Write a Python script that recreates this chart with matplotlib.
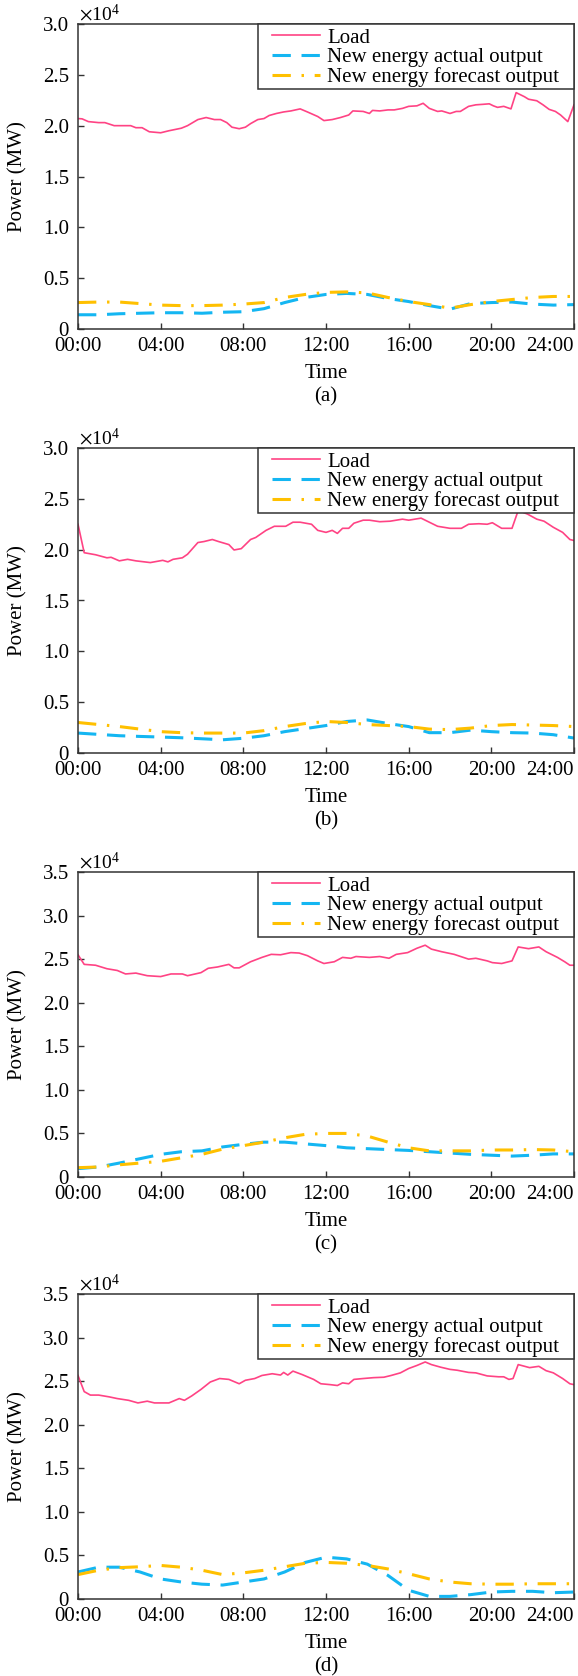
import matplotlib
matplotlib.use("Agg")
import matplotlib.pyplot as plt
from matplotlib.ticker import FuncFormatter, MultipleLocator
from matplotlib.patches import Rectangle

plt.rcParams['font.family'] = ['Liberation Serif', 'DejaVu Serif']
plt.rcParams['mathtext.fontset'] = 'stix'

# ---------------- data (MW) ----------------
panel_tags = ['(a)', '(b)', '(c)', '(d)']
series_names = ['Load', 'New energy actual output', 'New energy forecast output']
xtick_hours = [0, 4, 8, 12, 16, 20, 24]
xtick_labels = ['00:00', '04:00', '08:00', '12:00', '16:00', '20:00', '24:00']
ymax_list = [30000, 30000, 35000, 35000]

hours_hourly = list(range(25))

# panel (a)
load_t_a = [0.0, 0.2, 0.5, 1.0, 1.3, 1.75, 2.3, 2.55, 2.8, 3.1, 3.45, 4.0, 4.4, 5.0, 5.3, 5.8, 6.2, 6.6,
            6.9, 7.2, 7.45, 7.8, 8.1, 8.35, 8.7, 9.0, 9.25, 9.6, 9.95, 10.3, 10.75, 11.1, 11.6, 11.9,
            12.3, 12.7, 13.1, 13.3, 13.8, 14.1, 14.25, 14.6, 15.0, 15.3, 15.7, 16.0, 16.4, 16.7, 17.0,
            17.4, 17.6, 18.0, 18.3, 18.5, 18.9, 19.25, 19.6, 19.9, 20.1, 20.3, 20.6, 20.95, 21.2, 21.6,
            21.8, 22.2, 22.5, 22.8, 23.1, 23.35, 23.7, 24.0]
load_a = [20700, 20670, 20400, 20300, 20300, 20000, 20000, 20000, 19800, 19800, 19400, 19300, 19500,
          19750, 20000, 20600, 20800, 20600, 20600, 20300, 19850, 19700, 19850, 20200, 20600, 20700,
          21000, 21200, 21350, 21450, 21650, 21350, 20900, 20500, 20600, 20800, 21050, 21450, 21400,
          21200, 21500, 21450, 21550, 21550, 21700, 21900, 21950, 22200, 21700, 21400, 21450, 21200,
          21400, 21400, 21900, 22050, 22100, 22150, 21950, 21800, 21900, 21650, 23250, 22850, 22600,
          22450, 22050, 21600, 21400, 21050, 20400, 22050]
actual_a = [1400, 1400, 1500, 1550, 1600, 1600, 1550, 1650, 1700, 2000, 2600, 3100, 3400, 3500, 3400,
            3000, 2700, 2300, 1950, 2500, 2600, 2650, 2450, 2350, 2400]
forecast_a = [2600, 2650, 2650, 2500, 2350, 2300, 2300, 2350, 2450, 2600, 3100, 3400, 3600, 3650, 3550,
              3100, 2700, 2400, 2050, 2400, 2700, 2900, 3100, 3200, 3200]

# panel (b)
load_t_b = [0.0, 0.3, 0.85, 1.4, 1.6, 2.0, 2.4, 2.8, 3.5, 4.1, 4.35, 4.6, 5.05, 5.3, 5.8, 6.1, 6.5, 6.8,
            7.3, 7.55, 7.9, 8.35, 8.6, 9.1, 9.5, 10.05, 10.4, 10.75, 11.3, 11.6, 12.0, 12.3, 12.55, 12.8,
            13.1, 13.35, 13.8, 14.1, 14.6, 15.1, 15.7, 16.0, 16.6, 16.9, 17.4, 18.0, 18.55, 18.9, 19.4,
            19.8, 20.05, 20.5, 21.0, 21.3, 21.75, 22.2, 22.55, 23.0, 23.45, 23.8, 24.0]
load_b = [22500, 19700, 19500, 19200, 19250, 18900, 19050, 18900, 18730, 18950, 18800, 19050, 19200,
          19550, 20700, 20800, 21000, 20800, 20500, 19970, 20100, 21000, 21200, 21900, 22300, 22300,
          22700, 22700, 22500, 21900, 21700, 21900, 21600, 22100, 22100, 22600, 22900, 22900, 22750,
          22800, 23000, 22900, 23100, 22800, 22300, 22100, 22100, 22500, 22550, 22500, 22650, 22100,
          22100, 23850, 23500, 23000, 22800, 22200, 21700, 21000, 20900]
actual_b = [1960, 1830, 1700, 1630, 1570, 1500, 1400, 1300, 1450, 1700, 2100, 2400, 2700, 3100, 3250,
            2900, 2600, 2000, 2000, 2250, 2100, 2000, 1960, 1800, 1470]
forecast_b = [3000, 2800, 2600, 2350, 2100, 2000, 1960, 1960, 1960, 2200, 2600, 2900, 3100, 3000, 2800,
              2700, 2600, 2350, 2300, 2450, 2700, 2800, 2750, 2700, 2600]

# panel (c)
load_t_c = [0.0, 0.3, 0.85, 1.4, 1.9, 2.3, 2.8, 3.35, 4.0, 4.5, 5.05, 5.3, 5.95, 6.3, 6.75, 7.3, 7.55,
            7.8, 8.35, 8.9, 9.35, 9.8, 10.3, 10.7, 11.1, 11.6, 11.9, 12.4, 12.8, 13.2, 13.45, 14.1, 14.6,
            15.05, 15.4, 15.95, 16.4, 16.8, 17.1, 17.6, 18.2, 18.9, 19.25, 19.8, 20.05, 20.5, 21.0, 21.3,
            21.8, 22.3, 22.65, 23.2, 23.55, 23.8, 24.0]
load_c = [25500, 24400, 24300, 23900, 23700, 23300, 23400, 23100, 23000, 23300, 23300, 23100, 23450,
          23950, 24100, 24400, 24000, 24000, 24700, 25200, 25550, 25500, 25750, 25700, 25400, 24800,
          24500, 24700, 25200, 25100, 25300, 25200, 25300, 25100, 25550, 25750, 26250, 26600, 26150,
          25850, 25550, 25000, 25100, 24800, 24600, 24500, 24800, 26400, 26200, 26400, 25850, 25200,
          24700, 24300, 24300]
actual_c = [960, 1150, 1600, 2100, 2600, 2900, 3000, 3450, 3750, 4000, 4000, 3800, 3600, 3350, 3250,
            3150, 3050, 2900, 2750, 2600, 2500, 2400, 2500, 2650, 2650]
forecast_c = [1070, 1150, 1400, 1600, 1800, 2200, 2600, 3200, 3600, 4000, 4500, 4900, 5000, 5000, 4700,
              4000, 3350, 3000, 3000, 3000, 3100, 3100, 3150, 3100, 2900]

# panel (d)
load_t_d = [0.0, 0.3, 0.6, 1.0, 1.5, 1.9, 2.45, 2.9, 3.35, 3.7, 4.4, 4.9, 5.15, 5.5, 5.95, 6.4, 6.85,
            7.3, 7.8, 8.1, 8.55, 8.9, 9.4, 9.8, 9.95, 10.15, 10.4, 10.85, 11.4, 11.75, 12.2, 12.55, 12.8,
            13.1, 13.35, 13.8, 14.3, 14.8, 15.15, 15.6, 16.0, 16.4, 16.8, 17.1, 17.55, 18.0, 18.35, 18.9,
            19.25, 19.8, 20.35, 20.6, 20.85, 21.05, 21.3, 21.85, 22.3, 22.65, 23.0, 23.45, 23.8, 24.0]
load_d = [25650, 23800, 23400, 23400, 23200, 23000, 22800, 22500, 22700, 22500, 22500, 23000, 22800,
          23300, 24050, 24900, 25300, 25200, 24700, 25100, 25300, 25650, 25850, 25700, 26000, 25700,
          26150, 25750, 25200, 24700, 24600, 24500, 24800, 24700, 25200, 25300, 25400, 25450, 25650,
          25950, 26450, 26800, 27200, 26900, 26600, 26350, 26250, 26000, 25950, 25600, 25500, 25500,
          25200, 25300, 26900, 26550, 26700, 26200, 25950, 25300, 24700, 24600]
actual_d = [3100, 3650, 3650, 3100, 2300, 1950, 1700, 1600, 1950, 2300, 3100, 4200, 4800, 4600, 4000,
            2700, 1000, 300, 300, 500, 800, 880, 880, 720, 800]
forecast_d = [2800, 3300, 3600, 3700, 3850, 3650, 3300, 2800, 3000, 3300, 3700, 4100, 4200, 4100, 3850,
              3450, 2900, 2300, 1950, 1750, 1700, 1700, 1750, 1750, 1750]

load_times = [load_t_a, load_t_b, load_t_c, load_t_d]
loads = [load_a, load_b, load_c, load_d]
actuals = [actual_a, actual_b, actual_c, actual_d]
forecasts = [forecast_a, forecast_b, forecast_c, forecast_d]

# ---------------- style ----------------
c_load = '#FF4384'
c_actual = '#14B6F2'
c_fore = '#FFC000'
spine_c = '#333333'
fs = 15

W, H = 578, 1676
fig = plt.figure(figsize=(W / 100, H / 100), dpi=100)

ax_left, ax_right = 78, 574
ax_w = ax_right - ax_left
ax_h = 305
ax_bottoms = [329, 753, 1177, 1599]
leg_left_px = 258
leg_h_px = 65

fmt = FuncFormatter(lambda v, p: '0' if abs(v) < 1e-9 else f'{v / 1e4:.1f}')

for i in range(4):
    b = ax_bottoms[i]
    ax = fig.add_axes([ax_left / W, 1 - b / H, ax_w / W, ax_h / H])
    ax.plot(load_times[i], loads[i], color=c_load, lw=1.2, label=series_names[0])
    ax.plot(hours_hourly, actuals[i], color=c_actual, lw=2.2, dashes=(6, 3.5),
            label=series_names[1])
    ax.plot(hours_hourly, forecasts[i], color=c_fore, lw=2.2, dashes=(6, 3.5, 0.8, 3.5),
            label=series_names[2])

    ax.set_xlim(0, 24)
    ax.set_ylim(0, ymax_list[i])
    ax.yaxis.set_major_locator(MultipleLocator(5000))
    ax.yaxis.set_major_formatter(fmt)
    ax.set_xticks(xtick_hours)
    ax.set_xticklabels(xtick_labels)
    ax.get_xticklabels()[-1].set_ha('right')

    ax.tick_params(direction='in', length=4, width=1.0, color=spine_c, labelsize=fs,
                   top=False, right=False)
    ax.tick_params(axis='x', pad=6)
    ax.tick_params(axis='y', pad=6.5)
    for s in ax.spines.values():
        s.set_color(spine_c)
        s.set_linewidth(1.1)

    ax.set_ylabel('Power (MW)', fontsize=fs)
    ax.yaxis.set_label_coords(-60 / ax_w, 0.5)
    ax.yaxis.label.set_va('center')
    ax.set_xlabel('Time', fontsize=fs)
    ax.xaxis.set_label_coords(0.5, -44 / ax_h)
    ax.xaxis.label.set_va('center')
    ax.text(0.5, -68 / ax_h, panel_tags[i], transform=ax.transAxes, ha='center', va='center',
            fontsize=fs)
    ax.text(0.003, 1.0 + 3 / ax_h, r'$\times\mathregular{10^4}$', transform=ax.transAxes,
            ha='left', va='baseline', fontsize=fs - 1)

    # legend frame (box flush with the top-right corner of the axes)
    fx0 = (leg_left_px - ax_left) / ax_w
    fh = leg_h_px / ax_h
    ax.add_patch(Rectangle((fx0, 1 - fh), 1 - fx0, fh, transform=ax.transAxes,
                           facecolor='white', edgecolor=spine_c, lw=1.1, zorder=4,
                           clip_on=False))
    leg = ax.legend(loc='upper right', bbox_to_anchor=(1 - 13 / ax_w, 1 - 2 / ax_h),
                    borderaxespad=0, fontsize=fs, frameon=False, handlelength=2.3,
                    handletextpad=0.35, labelspacing=0.0, borderpad=0.1)
    leg.set_zorder(5)

fig.savefig('out.png', dpi=100)
